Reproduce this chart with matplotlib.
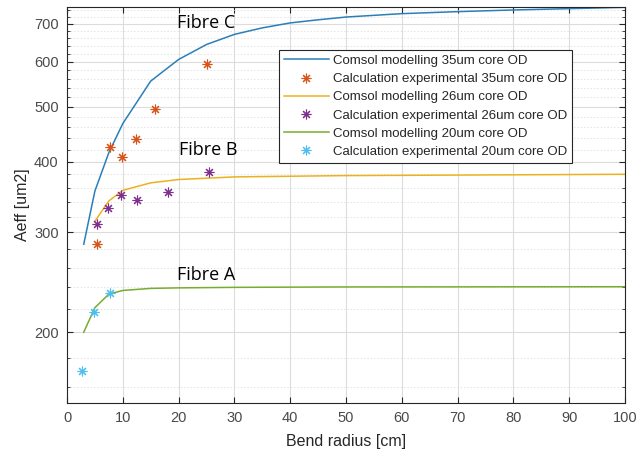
import matplotlib
matplotlib.use("Agg")
import matplotlib.pyplot as plt
from matplotlib.ticker import FixedLocator, NullFormatter, FixedFormatter

# Model curves
x_c = [3, 5, 7.5, 10, 15, 20, 25, 30, 35, 40, 45, 50, 60, 70, 80, 90, 100]
y_c = [286, 355, 415, 467, 555, 606, 644, 671, 689, 703, 712, 720, 730, 736, 741, 745, 749]
x_b = [5, 7.5, 10, 15, 20, 30, 50, 100]
y_b = [314, 341, 356, 367, 372, 376, 378, 380]
x_a = [3, 5, 7.5, 10, 15, 20, 30, 50, 100]
y_a = [200, 221, 233.5, 237, 239, 239.5, 240, 240.4, 240.6]

# Experimental points
ex_c = [5.4, 7.7, 9.8, 12.3, 15.8, 25.0]
ey_c = [286, 424, 408, 439, 496, 595]
ex_b = [5.3, 7.3, 9.6, 12.5, 18.1, 25.4]
ey_b = [311, 332, 350, 342, 354, 383]
ex_a = [2.6, 4.9, 7.7]
ey_a = [171, 217, 234.5]

labels = ["Comsol modelling 35um core OD", "Calculation experimental 35um core OD",
          "Comsol modelling 26um core OD", "Calculation experimental 26um core OD",
          "Comsol modelling 20um core OD", "Calculation experimental 20um core OD"]
yticks = [200, 300, 400, 500, 600, 700]
xticks = list(range(0, 101, 10))

plt.rcParams['font.family'] = ['Liberation Sans', 'DejaVu Sans']
fig = plt.figure(figsize=(6.37, 4.54), dpi=100)
ax = fig.add_axes([67/637, 51/454, 558/637, 396/454])

star = (8, 2, 0)
ms = 7
ax.plot(x_c, y_c, color='#2a7fba', lw=1.1, label=labels[0])
ax.plot(ex_c, ey_c, ls='none', marker=star, ms=ms, mec='#D95319', mew=0.8, label=labels[1])
ax.plot(x_b, y_b, color='#EDB120', lw=1.1, label=labels[2])
ax.plot(ex_b, ey_b, ls='none', marker=star, ms=ms, mec='#7E2F8E', mew=0.8, label=labels[3])
ax.plot(x_a, y_a, color='#77AC30', lw=1.1, label=labels[4])
ax.plot(ex_a, ey_a, ls='none', marker=star, ms=ms, mec='#4DBEEE', mew=0.8, label=labels[5])

ax.set_yscale('log')
ax.set_xlim(0, 100)
ax.set_ylim(150, 750)
ax.yaxis.set_major_locator(FixedLocator(yticks))
ax.yaxis.set_major_formatter(FixedFormatter([str(v) for v in yticks]))
minor = [v for v in range(160, 750, 20) if v not in yticks]
ax.yaxis.set_minor_locator(FixedLocator(minor))
ax.yaxis.set_minor_formatter(NullFormatter())
ax.set_xticks(xticks)

ax.grid(True, which='major', color='#dcdcdc', lw=0.8, ls='-')
ax.grid(True, which='minor', axis='y', color='#dadada', lw=0.6, ls=(0, (1.5, 2.5)))
ax.set_axisbelow(True)
ax.tick_params(which='both', direction='in', top=True, right=True, colors='#262626',
               labelcolor='#4a4a4a', labelsize=10.5, pad=6)
ax.tick_params(which='major', length=4)
ax.tick_params(which='minor', length=2)
for s in ax.spines.values():
    s.set_color('#262626')
    s.set_linewidth(0.8)

ax.set_xlabel('Bend radius [cm]', fontsize=11.5, color='#262626', labelpad=6)
ax.set_ylabel('Aeff [um2]', fontsize=11.5, color='#262626', labelpad=3)

tf = dict(family=['Open Sans', 'DejaVu Sans'], fontsize=13, color='black', ha='left', va='center')
ax.text(19.7, 703, 'Fibre C', **tf)
ax.text(20.0, 420, 'Fibre B', **tf)
ax.text(19.7, 252, 'Fibre A', **tf)

leg = ax.legend(loc='upper left', bbox_to_anchor=(0.38, 0.891), borderaxespad=0,
                fontsize=9.5, frameon=True, fancybox=False, framealpha=1,
                edgecolor='#262626', handlelength=3.4, handletextpad=0.35,
                labelspacing=0.45, borderpad=0.35)
leg.get_frame().set_linewidth(0.8)
for t in leg.get_texts():
    t.set_color('#262626')

fig.savefig('out.png', dpi=100)
